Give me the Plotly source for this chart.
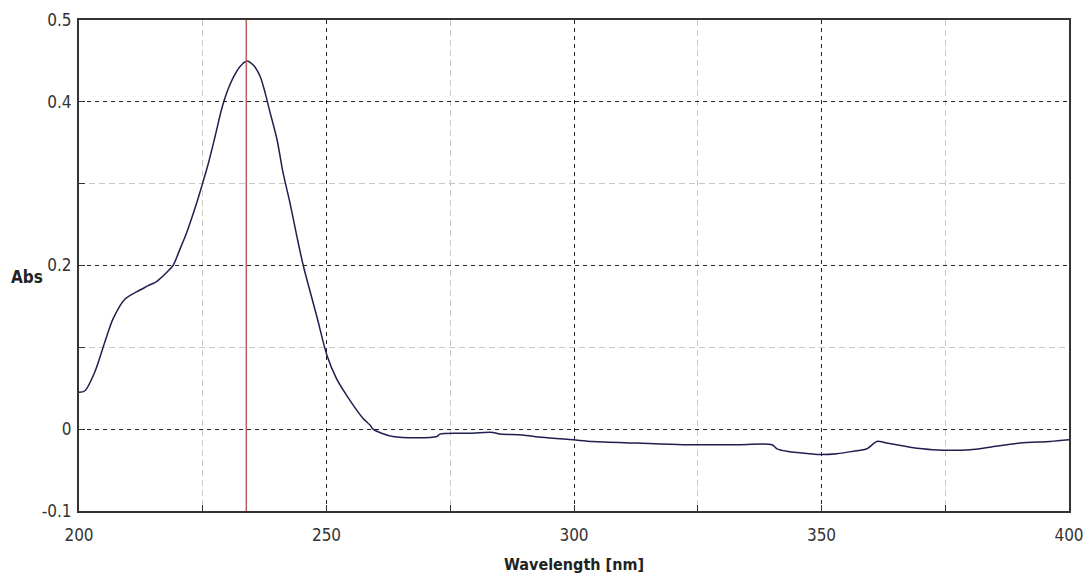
import plotly.graph_objects as go

wavelength = [200, 201.2, 203.2, 205.3, 206.9, 209.3, 211.7, 213.9, 215.8, 217.8, 219.0,
              220.4, 221.8, 223.8, 224.8, 226.1, 227.5, 228.9, 229.9, 231.1, 232.5, 233.9,
              235.2, 236.6, 237.6, 238.6, 240.0, 241.2, 242.6, 244.0, 245.3, 246.7, 248.2,
              250.1, 252.0, 254.1, 257.4, 258.8, 259.4, 263.4, 272.3, 272.9,
              278.4, 283.6, 285.0, 289.5, 293.5, 299.8, 303.8, 312.7, 322.0, 333.5, 340.0,
              341.0, 343.0, 347.7, 349.7, 353.1, 356.4, 359.2, 361.2, 363.2, 367.9, 372.5,
              380.0, 384.0, 390.1, 396.2, 400.0]
absorbance = [0.045, 0.047, 0.070, 0.108, 0.135, 0.159, 0.168, 0.175, 0.181, 0.192, 0.200,
              0.220, 0.241, 0.277, 0.297, 0.324, 0.358, 0.393, 0.412, 0.429, 0.443, 0.450,
              0.445, 0.431, 0.411, 0.387, 0.354, 0.314, 0.277, 0.236, 0.200, 0.168, 0.134,
              0.090, 0.062, 0.041, 0.013, 0.005, 0.0, -0.009, -0.009, -0.006,
              -0.005, -0.004, -0.006, -0.007, -0.010, -0.013, -0.015, -0.017, -0.019, -0.019, -0.019,
              -0.024, -0.027, -0.030, -0.031, -0.030, -0.027, -0.024, -0.015, -0.017, -0.022, -0.025,
              -0.025, -0.022, -0.017, -0.015, -0.013]
marker_wavelength = 233.8

x_ticks = [200, 250, 300, 350, 400]
x_minor = [225, 275, 325, 375]
y_ticks = [-0.1, 0, 0.2, 0.4, 0.5]
y_ticktext = ["-0.1", "0", "0.2", "0.4", "0.5"]
y_minor = [0.1, 0.3]

FONT = "Liberation Sans Narrow, Arial Narrow, DejaVu Sans Condensed, sans-serif"

fig = go.Figure()
fig.add_trace(go.Scatter(x=wavelength, y=absorbance, mode="lines",
                         line=dict(color="#1f2050", width=1.5, shape="spline", smoothing=0.8),
                         showlegend=False))
fig.add_shape(type="line", xref="x", yref="paper", x0=marker_wavelength, x1=marker_wavelength,
              y0=0, y1=1, line=dict(color="#b9605b", width=1.5))

axis_common = dict(showgrid=True, gridcolor="#222222", griddash="4px,4px", gridwidth=1,
                   ticks="inside", ticklen=6, tickcolor="#333",
                   showline=True, linecolor="#333333", linewidth=2, mirror=True,
                   zeroline=False, automargin=False,
                   tickfont=dict(family=FONT, size=17, color="#333"))

fig.update_xaxes(range=[200, 400], tickvals=x_ticks, ticktext=[str(v) for v in x_ticks],
                 minor=dict(tickvals=x_minor, showgrid=True, gridcolor="#c8c8c8",
                            griddash="6px,4px", ticks="inside", ticklen=6, tickcolor="#333"),
                 ticklabelstandoff=8, **axis_common)
fig.update_yaxes(range=[-0.1, 0.5], tickvals=y_ticks, ticktext=y_ticktext,
                 minor=dict(tickvals=y_minor, showgrid=True, gridcolor="#c8c8c8",
                            griddash="6px,4px", ticks="inside", ticklen=6, tickcolor="#333"),
                 ticklabelstandoff=2, **axis_common)

fig.add_annotation(text="<b>Abs</b>", xref="paper", yref="paper", x=-0.053, y=0.477,
                   xanchor="center", yanchor="middle", showarrow=False,
                   font=dict(family=FONT, size=17, color="#222"))
fig.add_annotation(text="<b>Wavelength [nm]</b>", xref="paper", yref="paper", x=0.5, y=-0.108,
                   xanchor="center", yanchor="middle", showarrow=False,
                   font=dict(family=FONT, size=16, color="#222"))

fig.update_layout(width=1084, height=574, margin=dict(l=79, r=15, t=20, b=63, autoexpand=False),
                  plot_bgcolor="white", paper_bgcolor="white")
# remove the default page margin so the figure fills the 1084x574 window exactly
fig.write_html("out.html", config={"displayModeBar": False},
               post_script="document.body.style.margin='0';document.body.style.overflow='hidden';")
